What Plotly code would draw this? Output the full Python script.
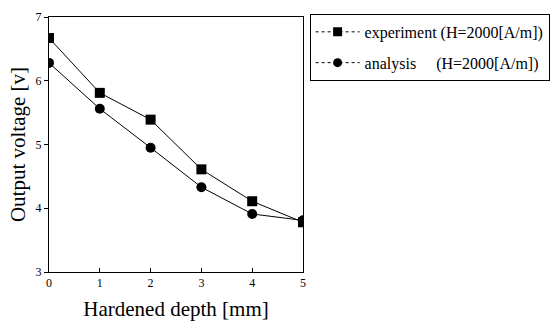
import plotly.graph_objects as go

depth_mm = [0, 1, 2, 3, 4, 5]
experiment_v = [6.67, 5.81, 5.39, 4.61, 4.11, 3.78]
analysis_v = [6.28, 5.56, 4.95, 4.33, 3.91, 3.81]

x_ticks = [0, 1, 2, 3, 4, 5]
y_ticks = [3, 4, 5, 6, 7]

series = [
    ("experiment (H=2000[A/m])", experiment_v, "square", 10),
    ("analysis\u00a0\u00a0\u00a0\u00a0\u00a0(H=2000[A/m])", analysis_v, "circle", 10),
]

serif = "Liberation Serif, Times New Roman, serif"

fig = go.Figure()
for i, (label, values, symbol, size) in enumerate(series):
    # data curve, solid line
    fig.add_trace(go.Scatter(
        x=depth_mm, y=values, mode="lines+markers", showlegend=False,
        line=dict(color="black", width=1),
        marker=dict(symbol=symbol, size=size, color="black"),
    ))
    # legend key drawn with a dotted connector
    fig.add_trace(go.Scatter(
        x=[None], y=[None], mode="lines+markers", name=label,
        legendgroup=f"g{i}",
        line=dict(color="black", width=1, dash="dot"),
        marker=dict(symbol=symbol, size=9, color="black"),
    ))

fig.update_layout(
    width=558, height=322,
    margin=dict(l=49, r=255, t=17, b=50, autoexpand=False),
    paper_bgcolor="white", plot_bgcolor="white",
    font=dict(family=serif, color="black", size=12),
    showlegend=True,
    legend=dict(
        x=1.026, y=1.012, xanchor="left", yanchor="top",
        bordercolor="black", borderwidth=1,
        font=dict(family=serif, size=16, color="black"),
        tracegroupgap=7, traceorder="grouped", itemwidth=44,
    ),
    xaxis=dict(
        range=[0, 5], tickvals=x_ticks, ticks="inside", ticklen=4,
        tickcolor="black", showline=True, linecolor="black", linewidth=1,
        mirror=True, showgrid=False, zeroline=False, automargin=False,
        tickfont=dict(size=12),
        title=dict(text="Hardened depth [mm]", font=dict(size=21), standoff=11),
    ),
    yaxis=dict(
        range=[3, 7], tickvals=y_ticks, ticks="outside", ticklen=4,
        tickcolor="black", showline=True, linecolor="black", linewidth=1,
        mirror=True, showgrid=False, zeroline=False, automargin=False,
        tickfont=dict(size=12),
        title=dict(text="Output voltage [v]", font=dict(size=21), standoff=4),
    ),
)

fig.write_html("out.html")
